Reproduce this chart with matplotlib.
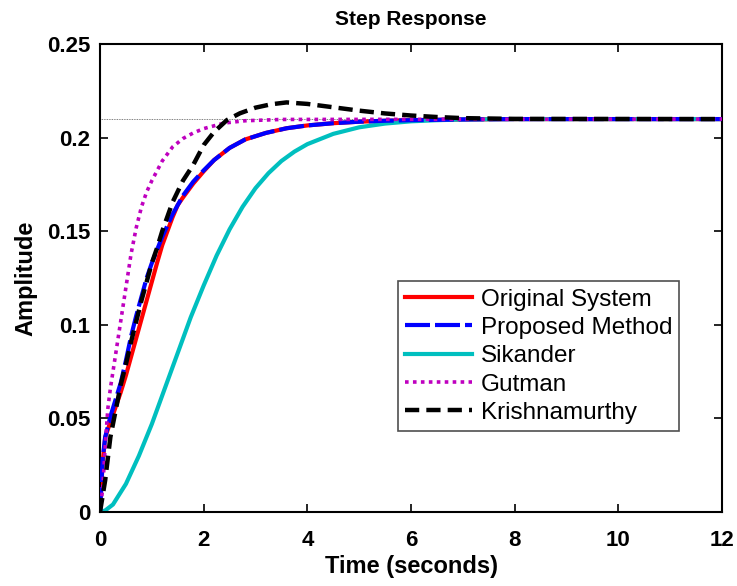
import matplotlib
matplotlib.use("Agg")
import matplotlib.pyplot as plt

plt.rcParams['font.family'] = ['Liberation Sans', 'DejaVu Sans']

# Original System
t_orig = [0, 0.05, 0.1, 0.2, 0.3, 0.4, 0.5, 0.6, 0.7, 0.8, 0.9, 1.0, 1.1, 1.2, 1.3, 1.4, 1.5, 1.6, 1.8, 2.0,
          2.2, 2.5, 2.8, 3.2, 3.6, 4.0, 4.5, 5.0, 5.5, 6.0, 7.0, 8.0, 12.0]
y_orig = [0, 0.026, 0.040, 0.048, 0.056, 0.064, 0.073, 0.083, 0.093, 0.103, 0.113, 0.123, 0.133, 0.1425, 0.150,
          0.1575, 0.164, 0.168, 0.1755, 0.182, 0.188, 0.1945, 0.1990, 0.2025, 0.2050, 0.2065, 0.2077, 0.2085,
          0.2090, 0.2093, 0.2097, 0.2099, 0.2099]

# Proposed Method
t_prop = [0, 0.05, 0.1, 0.2, 0.3, 0.4, 0.5, 0.6, 0.7, 0.8, 0.9, 1.0, 1.1, 1.2, 1.4, 1.6, 1.8, 2.0,
          2.2, 2.5, 2.8, 3.2, 3.6, 4.0, 4.5, 5.0, 5.5, 6.0, 7.0, 8.0, 12.0]
y_prop = [0, 0.028, 0.040, 0.051, 0.060, 0.069, 0.081, 0.094, 0.105, 0.115, 0.125, 0.133, 0.140, 0.147, 0.159,
          0.169, 0.1765, 0.1825, 0.188, 0.1945, 0.1990, 0.2025, 0.2050, 0.2065, 0.2077, 0.2085, 0.2090,
          0.2093, 0.2097, 0.2099, 0.2099]

# Sikander
t_sik = [0, 0.1, 0.25, 0.5, 0.75, 1.0, 1.25, 1.5, 1.75, 2.0, 2.25, 2.5, 2.75, 3.0, 3.25, 3.5, 3.75, 4.0,
         4.5, 5.0, 5.5, 6.0, 6.5, 7.0, 8.0, 12.0]
y_sik = [0, 0.0008, 0.004, 0.015, 0.030, 0.047, 0.066, 0.085, 0.104, 0.121, 0.137, 0.151, 0.163, 0.173, 0.181,
         0.1875, 0.1925, 0.1965, 0.2020, 0.2055, 0.2075, 0.2087, 0.2093, 0.2097, 0.2099, 0.2099]

# Gutman
t_gut = [0, 0.05, 0.1, 0.15, 0.2, 0.3, 0.4, 0.5, 0.6, 0.7, 0.8, 0.9, 1.0, 1.2, 1.4, 1.6, 1.8, 2.0, 2.4,
         2.8, 3.5, 12.0]
y_gut = [0, 0.012, 0.035, 0.055, 0.066, 0.084, 0.102, 0.120, 0.138, 0.152, 0.163, 0.171, 0.177, 0.1875, 0.195,
         0.1995, 0.2025, 0.2048, 0.2078, 0.2090, 0.2097, 0.2099]

# Krishnamurthy
t_kri = [0, 0.1, 0.2, 0.3, 0.4, 0.5, 0.6, 0.7, 0.8, 0.9, 1.0, 1.1, 1.2, 1.4, 1.6, 1.8, 2.0, 2.2, 2.45, 2.7,
         3.0, 3.3, 3.6, 4.0, 4.5, 5.0, 5.5, 6.0, 6.5, 7.0, 8.0, 12.0]
y_kri = [0, 0.017, 0.040, 0.054, 0.068, 0.079, 0.091, 0.102, 0.113, 0.123, 0.133, 0.141, 0.150, 0.1655, 0.177,
         0.1855, 0.196, 0.203, 0.2094, 0.2130, 0.2160, 0.2178, 0.2188, 0.2180, 0.2162, 0.2144, 0.2129,
         0.2118, 0.2110, 0.2104, 0.2100, 0.2099]

steady = 0.2099
x_ticks = [0, 2, 4, 6, 8, 10, 12]
y_ticks = [0, 0.05, 0.1, 0.15, 0.2, 0.25]
y_ticklabels = ['0', '0.05', '0.1', '0.15', '0.2', '0.25']

fig = plt.figure(figsize=(7.37, 5.86), dpi=100)
ax = fig.add_axes([0.1357, 0.1263, 0.8440, 0.7986])

ax.axhline(steady, color='#555555', lw=0.6, ls=(0, (1, 1)), zorder=1)
ax.plot(t_orig, y_orig, color='#ff0000', lw=3.0, label='Original System', zorder=2)
ax.plot(t_prop, y_prop, color='#0000ff', lw=3.0, ls=(0, (6, 1.2)), label='Proposed Method', zorder=3)
ax.plot(t_sik, y_sik, color='#00bfbf', lw=3.0, label='Sikander', zorder=2)
ax.plot(t_gut, y_gut, color='#bf00bf', lw=2.6, ls=(0, (1, 1.2)), label='Gutman', zorder=4)
ax.plot(t_kri, y_kri, color='#000000', lw=3.2, ls=(0, (3.2, 1.6)), label='Krishnamurthy', zorder=5)

ax.set_xlim(0, 12)
ax.set_ylim(0, 0.25)
ax.set_xticks(x_ticks)
ax.set_yticks(y_ticks)
ax.set_yticklabels(y_ticklabels)
ax.tick_params(direction='in', top=True, right=True, length=6, width=1.2, labelsize=16)
ax.tick_params(axis='x', pad=13)
ax.tick_params(axis='y', pad=7)
for lab in ax.get_xticklabels() + ax.get_yticklabels():
    lab.set_fontweight('bold')
for s in ax.spines.values():
    s.set_linewidth(1.5)

ax.set_title('Step Response', fontsize=15, fontweight='bold', pad=14)
ax.set_xlabel('Time (seconds)', fontsize=17, fontweight='bold', labelpad=3)
ax.set_ylabel('Amplitude', fontsize=17, fontweight='bold', labelpad=7)

leg = ax.legend(loc='upper left', bbox_to_anchor=(0.479, 0.493), fontsize=17.5,
                frameon=True, fancybox=False, edgecolor='#222222', handlelength=2.75,
                handletextpad=0.35, borderpad=0.3, labelspacing=0.26, borderaxespad=0)
leg.get_frame().set_linewidth(1.2)

fig.savefig('out.png', dpi=100)
